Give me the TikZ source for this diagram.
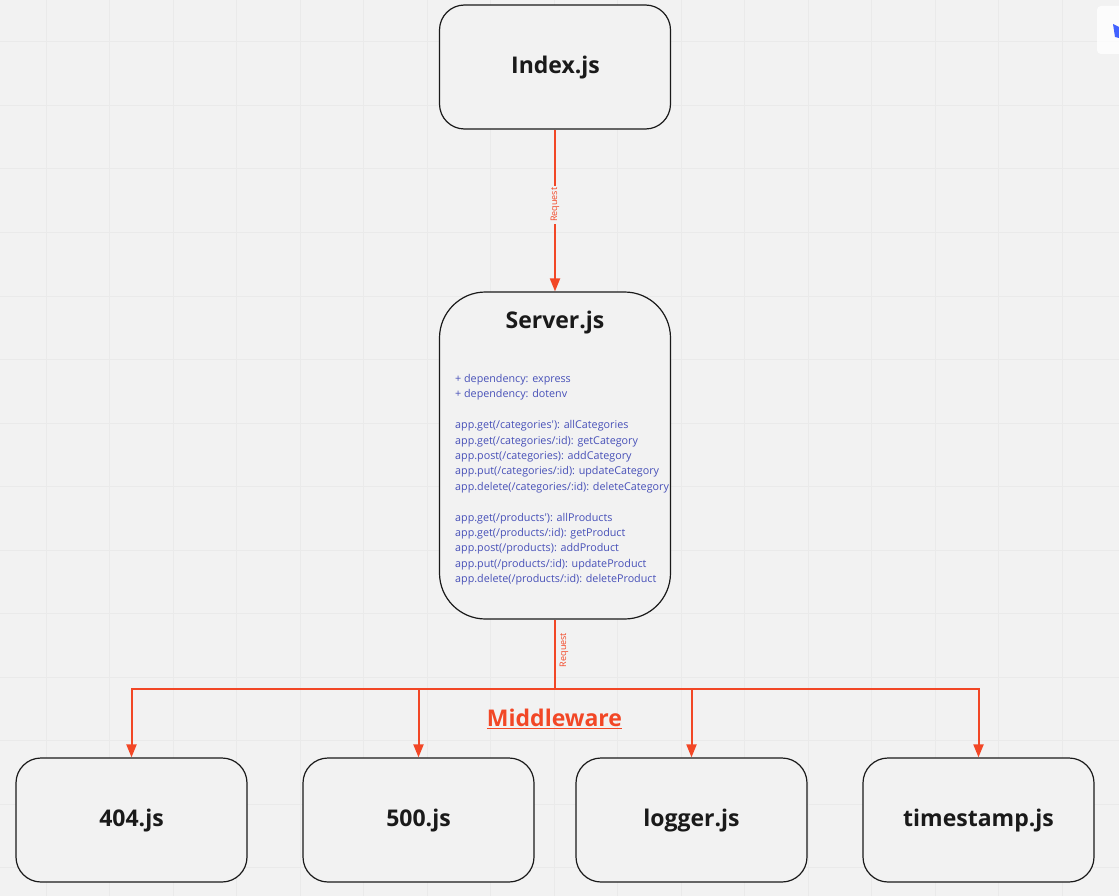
\documentclass[tikz,border=0pt]{standalone}
\usepackage{fontspec}
\setmainfont{Open Sans}
\newfontfamily\bodyfont{Open Sans}
\usetikzlibrary{arrows.meta}
\definecolor{bgc}{HTML}{F2F2F2}
\definecolor{gridc}{HTML}{EAEAEA}
\definecolor{inkc}{HTML}{1A1A1A}
\definecolor{redc}{HTML}{F24726}
\definecolor{bluec}{HTML}{4750B8}
\definecolor{logoc}{HTML}{4262FF}
\tikzset{
  x=1pt,y=-1pt,
  shapebox/.style={draw=inkc,line width=1.2pt,fill=bgc,inner sep=0pt,minimum width=231pt,minimum height=124pt,rounded corners=25pt},
  tallbox/.style={shapebox,minimum height=327pt,rounded corners=46pt},
  title/.style={font=\fontsize{23}{27}\selectfont\bfseries,text=inkc,inner sep=0pt},
  body/.style={font=\bodyfont\fontsize{10.75}{15.42}\selectfont,text=bluec,align=left,inner sep=0pt,anchor=north west},
  link/.style={draw=redc,line width=2pt},
  flow/.style={link,-{Triangle[length=13pt,width=10pt]}},
  tag/.style={font=\fontsize{9}{10}\selectfont,text=redc,rotate=90,inner sep=0pt},
}
\begin{document}
\begin{tikzpicture}
\useasboundingbox (0,0) rectangle (1119,896);
\fill[bgc] (0,0) rectangle (1119,896);
\foreach \i in {0,...,16} \draw[gridc,line width=1pt] ({46+63.5*\i},0) -- ({46+63.5*\i},896);
\foreach \i in {0,...,13} \draw[gridc,line width=1pt] (0,{42+63.5*\i}) -- (1119,{42+63.5*\i});
\fill[white,opacity=.8,rounded corners=4pt] (1097,6) -- (1125,6) -- (1125,54) -- (1097,54) -- cycle;
\fill[logoc] (1113,24) -- (1119,27) -- (1119,38) -- (1115,37) -- cycle;

\node[shapebox] (index) at (555,67) {};
\node[title] (indext) at (555.5,68) {Index.js};
\node[tallbox] (server) at (555,455.5) {};
\node[title] (servert) at (555,323) {Server.js};
\node[body] (serverb) at (455,374) {+ dependency: express\\
+ dependency: dotenv\\[15.42pt]
app.get(/categories'): allCategories\\
app.get(/categories/:id): getCategory\\
app.post(/categories): addCategory\\
app.put(/categories/:id): updateCategory\\
app.delete(/categories/:id): deleteCategory\\[15.42pt]
app.get(/products'): allProducts\\
app.get(/products/:id): getProduct\\
app.post(/products): addProduct\\
app.put(/products/:id): updateProduct\\
app.delete(/products/:id): deleteProduct};

\node[shapebox] (n404) at (131.5,820) {};
\node[shapebox] (n500) at (418.5,820) {};
\node[shapebox] (logger) at (691.5,820) {};
\node[shapebox] (stamp) at (978.5,820) {};
\node[title,yshift=-1pt] at (n404) {404.js};
\node[title,yshift=-1pt] at (n500) {500.js};
\node[title,yshift=-1pt] at (logger) {logger.js};
\node[title,yshift=-1pt] at (stamp) {timestamp.js};

\coordinate (hub) at (555,688.5);
\draw[flow] (index.south) -- (server.north)
  node[pos=.465,tag,fill=bgc,inner xsep=2pt,inner ysep=1pt] (req1) {Request};
\draw[link,line width=2.7pt] (server.south) -- (hub);
\node[tag] (req2) at (564,650) {Request};
\draw[flow] (hub) -| (n404.north);
\draw[flow] (hub) -| (n500.north);
\draw[flow] (hub) -| (logger.north);
\draw[flow] (hub) -| (stamp.north);
\node[font=\fontsize{23}{27}\selectfont\bfseries,text=redc,inner sep=0pt] (mw) at (554.5,719) {\underline{Middleware}};
\end{tikzpicture}
\end{document}
